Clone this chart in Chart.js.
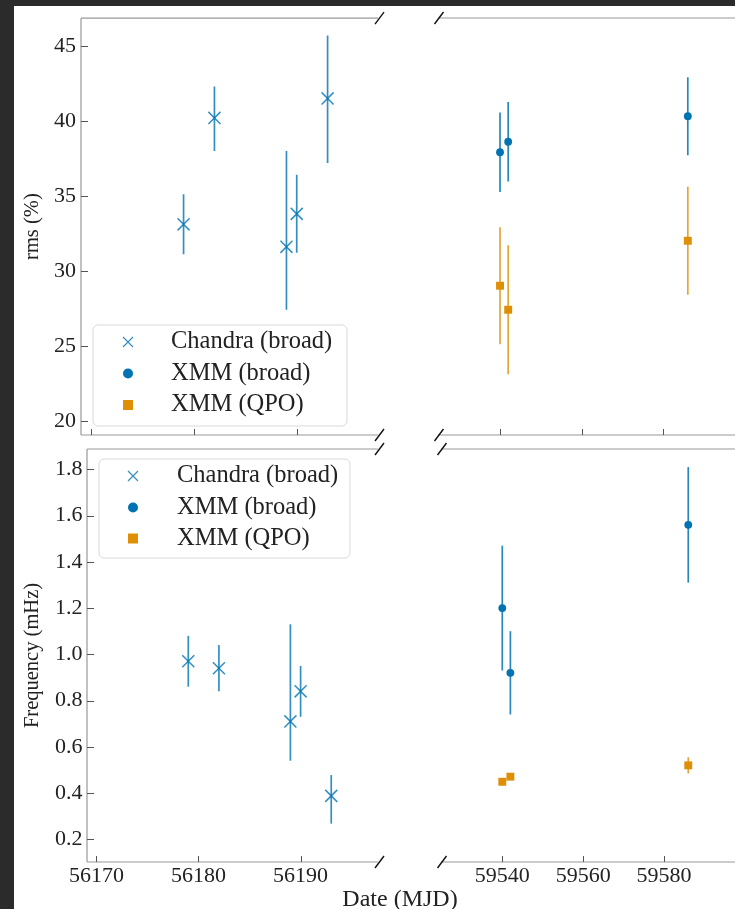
<!DOCTYPE html>
<html>
<head>
<meta charset="utf-8">
<script src="https://cdn.jsdelivr.net/npm/chart.js@4/dist/chart.umd.min.js"></script>
<style>
  html, body { margin: 0; padding: 0; background: #2b2b2b; overflow: hidden; }
  #fig { position: absolute; left: 14px; top: 6px; width: 721px; height: 903px; background: #fff; }
  canvas { position: absolute; left: 0; top: 0; }
  #xlabel { position: absolute; left: 300px; width: 200px; top: 884px; text-align: center;
            font: 24px "Liberation Serif", serif; color: #222; line-height: 28px; }
</style>
</head>
<body>
<div id="fig"></div>
<canvas id="tl" width="735" height="909"></canvas>
<canvas id="tr" width="735" height="909"></canvas>
<canvas id="bl" width="735" height="909"></canvas>
<canvas id="br" width="735" height="909"></canvas>
<div id="xlabel">Date (MJD)</div>
<script>
// series labels
const seriesNames = ['Chandra (broad)', 'XMM (broad)', 'XMM (QPO)'];

// Chandra observations
const chandraMJD = [56179.0, 56182.0, 56189.0, 56190.0, 56193.0];
const chandraRms = [33.1, 40.2, 31.6, 33.8, 41.5];
const chandraRmsUp = [2.0, 2.1, 6.4, 2.6, 4.2];
const chandraRmsDn = [2.0, 2.2, 4.2, 2.6, 4.3];
const chandraFreq = [0.97, 0.94, 0.71, 0.84, 0.388];
const chandraFreqUp = [0.11, 0.10, 0.42, 0.11, 0.09];
const chandraFreqDn = [0.11, 0.10, 0.17, 0.11, 0.12];

// XMM observations
const xmmMJD = [59540.0, 59542.0, 59586.0];
const xmmBroadRms = [37.9, 38.6, 40.3];
const xmmBroadRmsErr = [2.65, 2.65, 2.6];
const xmmQpoRms = [29.0, 27.4, 32.0];
const xmmQpoRmsErr = [3.9, 4.3, 3.6];
const xmmBroadFreq = [1.20, 0.92, 1.56];
const xmmBroadFreqErr = [0.27, 0.18, 0.25];
const xmmQpoFreq = [0.449, 0.471, 0.52];
const xmmQpoFreqErr = [0.015, 0.008, 0.035];

// tick labels
const leftTicks = [56170, 56180, 56190];
const rightTicks = [59540, 59560, 59580];
const rmsTicks = [20, 25, 30, 35, 40, 45];
const freqTicks = [0.2, 0.4, 0.6, 0.8, 1.0, 1.2, 1.4, 1.6, 1.8];

const FONT = 'Liberation Serif';
const BLUE = '#0173b2';
const ORANGE = '#de8f05';

const pts = (xs, ys, up, dn) => xs.map((x, i) => ({ x, y: ys[i], hi: up[i], lo: (dn || up)[i] }));

function makeDatasets(row) {
  const rms = row === 'rms';
  return [
    {
      label: seriesNames[0],
      data: rms ? pts(chandraMJD, chandraRms, chandraRmsUp, chandraRmsDn)
                : pts(chandraMJD, chandraFreq, chandraFreqUp, chandraFreqDn),
      pointStyle: 'crossRot', pointRadius: 8.5, borderWidth: 1.5,
      borderColor: 'rgba(1,115,178,0.8)', backgroundColor: 'rgba(1,115,178,0.8)',
      errColor: 'rgba(1,115,178,0.8)'
    },
    {
      label: seriesNames[1],
      data: rms ? pts(xmmMJD, xmmBroadRms, xmmBroadRmsErr) : pts(xmmMJD, xmmBroadFreq, xmmBroadFreqErr),
      pointStyle: 'circle', pointRadius: 3.9, borderWidth: 0,
      backgroundColor: BLUE, borderColor: BLUE,
      errColor: 'rgba(1,115,178,0.85)'
    },
    {
      label: seriesNames[2],
      data: rms ? pts(xmmMJD, xmmQpoRms, xmmQpoRmsErr) : pts(xmmMJD, xmmQpoFreq, xmmQpoFreqErr),
      pointStyle: 'rect', pointRadius: 5.6, borderWidth: 0,
      backgroundColor: ORANGE, borderColor: ORANGE,
      errColor: 'rgba(222,143,5,0.8)'
    }
  ];
}

// vertical error bars, drawn under the markers
const errorBars = {
  id: 'errorBars',
  beforeDatasetsDraw(chart) {
    const { ctx, chartArea: a, scales: { x, y } } = chart;
    ctx.save();
    ctx.beginPath();
    ctx.rect(a.left, a.top, a.right - a.left, a.bottom - a.top);
    ctx.clip();
    ctx.lineWidth = 1.7;
    chart.data.datasets.forEach(ds => {
      ctx.strokeStyle = ds.errColor;
      ds.data.forEach(p => {
        const px = x.getPixelForValue(p.x);
        ctx.beginPath();
        ctx.moveTo(px, y.getPixelForValue(p.y - p.lo));
        ctx.lineTo(px, y.getPixelForValue(p.y + p.hi));
        ctx.stroke();
      });
    });
    ctx.restore();
  }
};

// spines, inward ticks and the axis-break slashes
const frame = {
  id: 'frame',
  afterDraw(chart, args, o) {
    const { ctx, chartArea: a, scales: { x, y } } = chart;
    ctx.save();
    ctx.strokeStyle = '#999';
    ctx.lineWidth = 1.2;
    ctx.beginPath();
    ctx.moveTo(a.left, a.top); ctx.lineTo(a.right, a.top);
    ctx.moveTo(a.left, a.bottom); ctx.lineTo(a.right, a.bottom);
    if (o.side === 'left') { ctx.moveTo(a.left, a.top); ctx.lineTo(a.left, a.bottom); }
    ctx.stroke();

    ctx.strokeStyle = '#555';
    ctx.lineWidth = 1;
    ctx.beginPath();
    o.xTicks.forEach(v => {
      const px = Math.round(x.getPixelForValue(v)) + 0.5;
      ctx.moveTo(px, a.bottom); ctx.lineTo(px, a.bottom - 6);
    });
    if (o.side === 'left') {
      o.yTicks.forEach(v => {
        const py = Math.round(y.getPixelForValue(v)) + 0.5;
        ctx.moveTo(a.left, py); ctx.lineTo(a.left + 7, py);
      });
    }
    ctx.stroke();

    const bx = o.side === 'left' ? a.right + 1.5 : a.left + 1;
    ctx.strokeStyle = '#111';
    ctx.lineWidth = 1.4;
    [a.top, a.bottom].forEach(by => {
      ctx.beginPath();
      ctx.moveTo(bx - 4.5, by + 6);
      ctx.lineTo(bx + 4.5, by - 6);
      ctx.stroke();
    });
    ctx.restore();
  }
};

// legend box inside the left panels
const boxLegend = {
  id: 'boxLegend',
  afterDraw(chart, args, o) {
    if (!o.show) return;
    const ctx = chart.ctx;
    ctx.save();
    ctx.beginPath();
    ctx.roundRect(o.x, o.y, o.w, o.h, 5);
    ctx.fillStyle = 'rgba(255,255,255,0.8)';
    ctx.fill();
    ctx.strokeStyle = '#d9d9d9';
    ctx.lineWidth = 1;
    ctx.stroke();
    chart.data.datasets.forEach((ds, i) => {
      const cx = o.markerX, cy = o.rows[i];
      ctx.fillStyle = ds.backgroundColor;
      ctx.strokeStyle = ds.borderColor;
      if (ds.pointStyle === 'crossRot') {
        ctx.lineWidth = 1.2;
        ctx.beginPath();
        ctx.moveTo(cx - 5, cy - 5); ctx.lineTo(cx + 5, cy + 5);
        ctx.moveTo(cx - 5, cy + 5); ctx.lineTo(cx + 5, cy - 5);
        ctx.stroke();
      } else if (ds.pointStyle === 'circle') {
        ctx.beginPath();
        ctx.arc(cx, cy, 5, 0, Math.PI * 2);
        ctx.fill();
      } else {
        ctx.fillRect(cx - 5, cy - 5, 10, 10);
      }
      ctx.fillStyle = '#222';
      ctx.font = `${o.fontSize}px "${FONT}"`;
      ctx.textBaseline = 'middle';
      ctx.fillText(ds.label, o.textX, cy);
    });
    ctx.restore();
  }
};

function fixTicks(values) {
  return scale => { scale.ticks = values.map(v => ({ value: v })); };
}

function panel(id, cfg) {
  const left = cfg.side === 'left';
  return new Chart(document.getElementById(id), {
    type: 'scatter',
    data: { datasets: makeDatasets(cfg.row) },
    options: {
      responsive: false,
      animation: false,
      events: [],
      layout: { padding: cfg.padding, autoPadding: false },
      plugins: {
        legend: { display: false },
        tooltip: { enabled: false },
        frame: { side: cfg.side, xTicks: cfg.xTicks, yTicks: cfg.yTicks },
        boxLegend: cfg.legend || { show: false }
      },
      scales: {
        x: {
          type: 'linear', position: 'bottom',
          min: cfg.xRange[0], max: cfg.xRange[1],
          grid: { display: false, drawTicks: false }, border: { display: false },
          ticks: {
            display: cfg.xLabels, autoSkip: false, maxRotation: 0, padding: 1,
            color: '#222', font: { family: FONT, size: 22 },
            callback: v => String(v)
          },
          afterBuildTicks: fixTicks(cfg.xTicks),
          afterFit: s => { s.height = cfg.xLabels ? 30 : 0; }
        },
        y: {
          type: 'linear', position: 'left',
          min: cfg.yRange[0], max: cfg.yRange[1],
          grid: { display: false, drawTicks: false }, border: { display: false },
          ticks: {
            display: left, autoSkip: false, padding: cfg.yPad || 5,
            color: '#222', font: { family: FONT, size: 22 },
            callback: v => cfg.row === 'rms' ? String(v) : v.toFixed(1)
          },
          title: {
            display: left, text: cfg.yTitle || '', color: '#222',
            font: { family: FONT, size: 20.5 }, padding: { top: 20, bottom: 0 }
          },
          afterBuildTicks: fixTicks(cfg.yTicks),
          afterFit: s => { s.width = left ? cfg.yWidth : 0; }
        }
      }
    },
    plugins: [errorBars, frame, boxLegend]
  });
}

panel('tl', {
  row: 'rms', side: 'left', xLabels: false,
  padding: { left: 0, top: 18, right: 357, bottom: 474 },
  yWidth: 81, yTitle: 'rms (%)',
  xRange: [56169.03, 56197.9], yRange: [19.05, 46.85],
  xTicks: leftTicks, yTicks: rmsTicks,
  legend: { show: true, x: 93, y: 325, w: 254, h: 101, markerX: 128, textX: 171,
            rows: [342, 373.5, 405], fontSize: 24.5 }
});
panel('tr', {
  row: 'rms', side: 'right', xLabels: false,
  padding: { left: 438, top: 18, right: 0, bottom: 474 },
  xRange: [59524.81, 59597.56], yRange: [19.05, 46.85],
  xTicks: rightTicks, yTicks: rmsTicks
});
panel('bl', {
  row: 'freq', side: 'left', xLabels: true,
  padding: { left: 0, top: 449, right: 357, bottom: 17 },
  yWidth: 87, yPad: 4.5, yTitle: 'Frequency (mHz)',
  xRange: [56169.08, 56197.58], yRange: [0.102, 1.888],
  xTicks: leftTicks, yTicks: freqTicks,
  legend: { show: true, x: 99, y: 459, w: 251, h: 99, markerX: 133, textX: 177,
            rows: [476, 507.5, 538.5], fontSize: 24.5 }
});
panel('br', {
  row: 'freq', side: 'right', xLabels: true,
  padding: { left: 441, top: 449, right: 0, bottom: 17 },
  xRange: [59524.84, 59597.56], yRange: [0.102, 1.888],
  xTicks: rightTicks, yTicks: freqTicks
});
</script>
</body>
</html>
